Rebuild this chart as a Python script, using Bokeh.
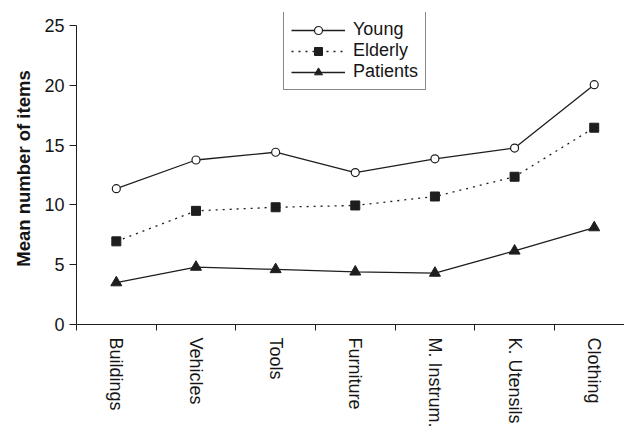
from bokeh.plotting import figure
from bokeh.models import FixedTicker, Legend, LegendItem, Range1d
from bokeh.embed import file_html
from bokeh.resources import INLINE

categories = ["Buildings", "Vehicles", "Tools", "Furniture", "M. Instrum.", "K. Utensils", "Clothing"]
young = [11.35, 13.75, 14.4, 12.7, 13.85, 14.75, 20.05]
elderly = [6.95, 9.5, 9.8, 9.95, 10.7, 12.35, 16.45]
patients = [3.5, 4.8, 4.6, 4.4, 4.3, 6.15, 8.1]
y_ticks = [0, 5, 10, 15, 20, 25]

xs = list(range(1, len(categories) + 1))
FONT = "Liberation Sans"
INK = "#1e1e1e"
TXT = "#151515"

p = figure(width=624, height=430, output_backend="svg", toolbar_location=None,
           x_range=Range1d(0.5, 7.38), y_range=Range1d(0, 26.08),
           min_border_left=76, min_border_top=12, min_border_bottom=105, min_border_right=0)
p.outline_line_color = None
p.xgrid.visible = False
p.ygrid.visible = False

# x axis: labels at category centres, ticks between categories (minor ticks)
xa = p.xaxis[0]
xa.ticker = FixedTicker(ticks=xs, minor_ticks=[i + 0.5 for i in range(0, len(categories))])
xa.major_label_overrides = {x: c for x, c in zip(xs, categories)}
xa.major_tick_out = 0
xa.major_tick_in = 0
xa.major_tick_line_color = None
xa.minor_tick_out = 6
xa.minor_tick_in = 0
xa.minor_tick_line_color = INK
xa.axis_line_color = INK
xa.major_label_orientation = "vertical"
xa.major_label_standoff = 7
xa.major_label_text_font = FONT
xa.major_label_text_font_size = "18px"
xa.major_label_text_color = TXT

ya = p.yaxis[0]
ya.ticker = FixedTicker(ticks=y_ticks, minor_ticks=[])
ya.bounds = (0, 25)
ya.major_tick_out = 7
ya.major_tick_in = 0
ya.major_tick_line_color = INK
ya.axis_line_color = INK
ya.major_label_standoff = 5
ya.major_label_text_font = FONT
ya.major_label_text_font_size = "18px"
ya.major_label_text_color = TXT
ya.axis_label = "Mean number of items"
ya.axis_label_text_font = FONT
ya.axis_label_text_font_size = "18.5px"
ya.axis_label_text_font_style = "bold"
ya.axis_label_text_color = TXT
ya.axis_label_standoff = 7

l1 = p.line(xs, young, line_color=INK, line_width=1.3)
s1 = p.scatter(xs, young, marker="circle", size=8, fill_color="white", line_color=INK, line_width=1.2)
l2 = p.line(xs, elderly, line_color=INK, line_width=1.3, line_dash="2 5")
s2 = p.scatter(xs, elderly, marker="square", size=9, fill_color=INK, line_color=INK)
l3 = p.line(xs, patients, line_color=INK, line_width=1.3)
s3 = p.scatter(xs, patients, marker="triangle", size=11, fill_color=INK, line_color=INK)

legend = Legend(items=[
    LegendItem(label="Young", renderers=[l1, s1]),
    LegendItem(label="Elderly", renderers=[l2, s2]),
    LegendItem(label="Patients", renderers=[l3, s3]),
], location=(207, 234))
legend.glyph_width = 54
legend.glyph_height = 20
legend.label_height = 20
legend.label_standoff = 8
legend.padding = 7
legend.spacing = 0
legend.margin = 0
legend.border_line_color = "#111111"
legend.border_line_width = 1.2
legend.background_fill_color = "white"
legend.background_fill_alpha = 1
legend.label_text_font = FONT
legend.label_text_font_size = "18px"
legend.label_text_color = TXT
p.add_layout(legend)

open("out.html", "w").write(file_html(p, INLINE))
